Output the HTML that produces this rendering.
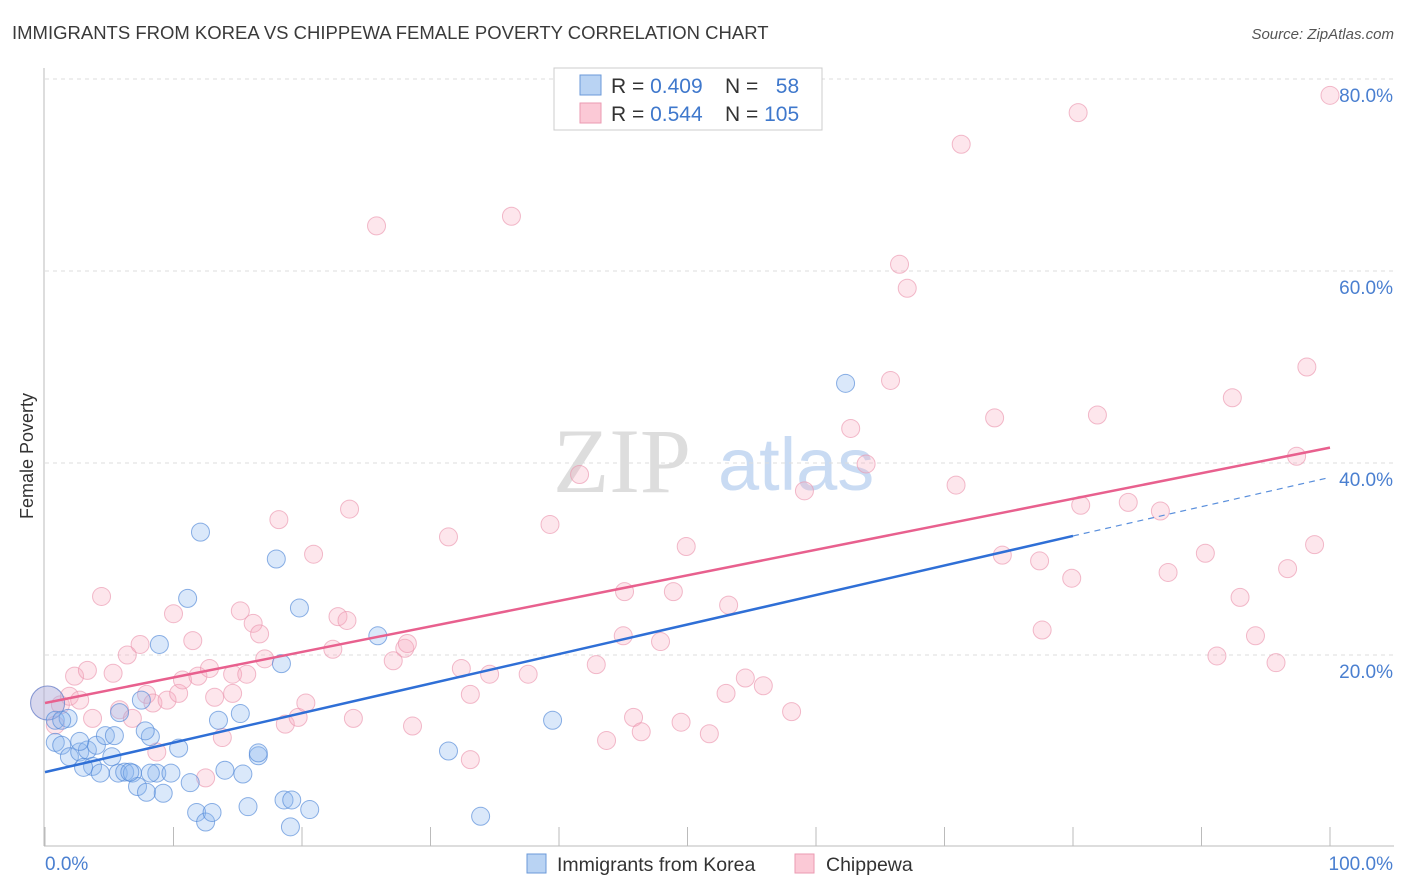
<!DOCTYPE html>
<html><head><meta charset="utf-8"><style>
body{margin:0;background:#fff;font-family:"Liberation Sans",sans-serif;}
svg{display:block}
</style></head><body>
<svg id="chart" width="1406" height="892" xmlns="http://www.w3.org/2000/svg">
<text x="12" y="39" font-size="18.5" fill="#3a3a3a">IMMIGRANTS FROM KOREA VS CHIPPEWA FEMALE POVERTY CORRELATION CHART</text>
<text x="1394" y="39" font-size="15" font-style="italic" fill="#555" text-anchor="end">Source: ZipAtlas.com</text>
<g>
<text x="553" y="492" font-size="92" font-family="Liberation Serif,serif" fill="#ddd">ZIP</text>
<text x="718" y="490" font-size="74" fill="#c9dbf3">atlas</text>
</g>
<g id="grid"></g>
<g id="axes"></g>
<g id="marks"></g>
<g id="lines"></g>
<text transform="translate(33,456) rotate(-90)" font-size="18" fill="#333" text-anchor="middle">Female Poverty</text>
<g>
<rect x="554" y="68" width="268" height="62" fill="#fff" stroke="#ccc"/>
<rect x="580" y="75" width="21" height="20" fill="#b9d3f3" stroke="#6b9ad8"/>
<rect x="580" y="103" width="21" height="20" fill="#fbc9d6" stroke="#eb9ab2"/>
<text x="611" y="93" font-size="21" fill="#333">R = <tspan fill="#3f78cc">0.409</tspan></text>
<text x="725" y="93" font-size="21" fill="#333">N = <tspan fill="#3f78cc">&#160;&#160;58</tspan></text>
<text x="611" y="121" font-size="21" fill="#333">R = <tspan fill="#3f78cc">0.544</tspan></text>
<text x="725" y="121" font-size="21" fill="#333">N = <tspan fill="#3f78cc">105</tspan></text>
</g>
<g>
<rect x="527" y="854" width="19" height="19" fill="#b9d3f3" stroke="#6b9ad8"/>
<text x="557" y="871" font-size="19.5" fill="#333">Immigrants from Korea</text>
<rect x="795" y="854" width="19" height="19" fill="#fbc9d6" stroke="#eb9ab2"/>
<text x="826" y="871" font-size="19.5" fill="#333">Chippewa</text>
</g>
</svg>
<script>
const yTicks=[20,40,60,80];
const yTickLabels=["20.0%","40.0%","60.0%","80.0%"];
const xTickVals=[0,10,20,30,40,50,60,70,80,90,100];
const koreaX=[0.2,0.8,1.8,0.8,1.3,1.9,2.7,3.3,4.0,2.7,3.7,4.3,5.2,4.7,5.7,6.2,6.8,7.2,7.9,8.7,9.2,9.8,10.4,8.2,7.8,7.5,5.8,8.9,11.1,12.1,11.3,11.8,12.5,13.0,13.5,14.0,15.2,15.4,15.8,16.6,16.6,18.0,18.4,18.6,19.2,19.1,19.8,20.6,25.9,31.4,33.9,39.5,62.3,5.4,3.0,8.2,1.3,6.6];
const koreaY=[15.0,13.2,13.4,10.9,10.6,9.4,9.9,10.1,10.6,11.0,8.4,7.7,9.4,11.6,7.7,7.8,7.7,6.3,5.7,7.7,5.6,7.7,10.3,11.5,12.1,15.3,14.0,21.1,25.9,32.8,6.7,3.6,2.6,3.6,13.2,8.0,13.9,7.6,4.2,9.5,9.8,30.0,19.1,4.9,4.9,2.1,24.9,3.9,22.0,10.0,3.2,13.2,48.3,11.6,8.3,7.7,13.2,7.8];
const chipX=[0.2,0.8,1.2,1.9,2.3,2.7,3.3,3.7,4.4,5.3,5.8,6.4,6.8,7.4,7.9,8.4,8.7,9.5,10.0,10.4,10.7,11.5,11.9,12.5,12.8,13.2,13.8,14.6,14.6,15.2,15.7,16.2,16.7,17.1,18.2,18.7,19.7,20.3,20.9,22.4,22.8,23.5,23.7,24.0,25.8,27.1,28.0,28.2,28.6,31.4,32.4,33.1,33.1,34.6,36.3,37.6,39.3,41.6,42.9,43.7,45.0,45.1,45.8,46.4,47.9,48.9,49.5,49.9,51.7,53.0,53.2,54.5,55.9,58.1,59.1,62.7,63.9,65.8,66.5,67.1,70.9,71.3,73.9,74.5,77.4,77.6,79.9,80.4,80.6,81.9,84.3,86.8,87.4,90.3,91.2,92.4,93.0,94.2,95.8,96.7,97.4,98.2,98.8,100];
const chipY=[15.0,12.7,14.8,15.7,17.8,15.3,18.4,13.4,26.1,18.1,14.3,20.0,13.4,21.1,15.9,15.0,9.9,15.3,24.3,16.0,17.4,21.5,17.8,7.2,18.6,15.6,11.4,16.0,18.0,24.6,18.0,23.3,22.2,19.6,34.1,12.8,13.5,15.0,30.5,20.6,24.0,23.6,35.2,13.4,64.7,19.4,20.7,21.2,12.6,32.3,18.6,9.1,15.9,18.0,65.7,18.0,33.6,38.8,19.0,11.1,22.0,26.6,13.5,12.0,21.4,26.6,13.0,31.3,11.8,16.0,25.2,17.6,16.8,14.1,37.1,43.6,39.9,48.6,60.7,58.2,37.7,73.2,44.7,30.4,29.8,22.6,28.0,76.5,35.6,45.0,35.9,35.0,28.6,30.6,19.9,46.8,26.0,22.0,19.2,29.0,40.7,50.0,31.5,78.3];
const koreaTrend=[7.8,32.4,38.5];
const chipTrend=[15.0,41.6];
const NS="http://www.w3.org/2000/svg";
const X=v=>45+v*12.85;
const Y=v=>847-v*9.6;
function mk(tag,attrs,parent){const e=document.createElementNS(NS,tag);for(const k in attrs)e.setAttribute(k,attrs[k]);parent.appendChild(e);return e;}
const grid=document.getElementById('grid'),axes=document.getElementById('axes'),marks=document.getElementById('marks'),lines=document.getElementById('lines');
yTicks.forEach((t,i)=>{
 const g=mk('line',{x1:45,x2:1394,y1:Y(t),y2:Y(t),stroke:'#ddd','stroke-dasharray':'4,4'},grid);
 
 
 const l=mk('text',{x:1393,y:Y(t)+23,'font-size':19,fill:'#4a7fd0','text-anchor':'end'},axes);
 l.textContent=yTickLabels[i];
 
 
});
const ax=mk('line',{x1:44,x2:44,y1:68,y2:846,stroke:'#bbb'},axes);


const bx=mk('line',{x1:44,x2:1394,y1:846,y2:846,stroke:'#bbb'},axes);


xTickVals.forEach(v=>{
 const t=mk('line',{x1:X(v),x2:X(v),y1:827,y2:846,stroke:'#bbb'},axes);
 
 
});
const xl0=mk('text',{x:45,y:870,'font-size':19,fill:'#4a7fd0'},axes);xl0.textContent='0.0%';


const xl1=mk('text',{x:1393,y:870,'font-size':19,fill:'#4a7fd0','text-anchor':'end'},axes);xl1.textContent='100.0%';


function dots(xs,ys,fill,stroke,name){xs.forEach((x,i)=>{
 const r=(i===0)?17:9;
 const c=mk('circle',{cx:X(x),cy:Y(ys[i]),r:r,fill:fill,stroke:stroke,'stroke-width':1},marks);
 
 
});}
dots(chipX,chipY,'rgba(247,172,192,0.3)','rgba(235,150,175,0.65)','chippewa-point');
dots(koreaX,koreaY,'rgba(140,182,238,0.32)','rgba(80,135,215,0.65)','korea-point');
const kl=mk('line',{x1:X(0),y1:Y(koreaTrend[0]),x2:X(80),y2:Y(koreaTrend[1]),stroke:'#2f6fd6','stroke-width':2.5},lines);


const kd=mk('line',{x1:X(80),y1:Y(koreaTrend[1]),x2:X(100),y2:Y(koreaTrend[2]),stroke:'#5a8fdc','stroke-width':1.2,'stroke-dasharray':'6,5'},lines);


const cl=mk('line',{x1:X(0),y1:Y(chipTrend[0]),x2:X(100),y2:Y(chipTrend[1]),stroke:'#e8608e','stroke-width':2.5},lines);


</script>
</body></html>
